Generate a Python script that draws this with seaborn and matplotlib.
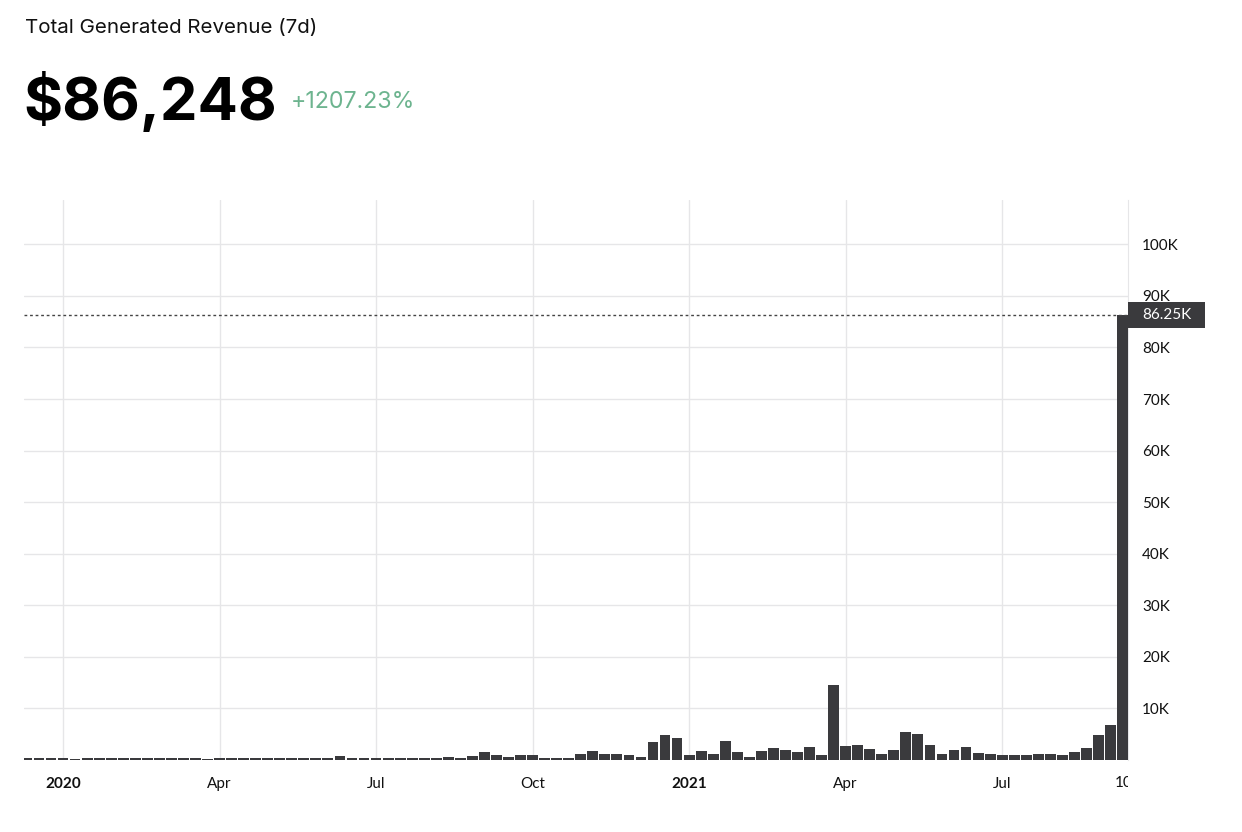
import numpy as np
import pandas as pd
import seaborn as sns
import matplotlib
matplotlib.use('Agg')
import matplotlib.pyplot as plt
import matplotlib.patches as mpatches
from matplotlib.transforms import Bbox

# weekly revenue (USD), one bar per week, first bar three weeks before Jan 2020
revenue = [
    300, 300, 300, 300, 250, 300, 300, 300, 300, 300,
    300, 300, 300, 300, 300, 250, 300, 300, 300, 300,
    300, 300, 300, 300, 300, 300, 700, 300, 300, 300,
    300, 300, 300, 350, 400, 500, 300, 850, 1550, 1000,
    600, 900, 1000, 300, 400, 400, 1150, 1750, 1150, 1150,
    900, 600, 3500, 4850, 4270, 1000, 1700, 1100, 3700, 1600,
    650, 1800, 2400, 1950, 1600, 2500, 1000, 14500, 2700, 3000,
    2100, 1200, 2000, 5350, 5000, 3000, 1200, 1900, 2600, 1400,
    1200, 900, 900, 900, 1200, 1200, 900, 1550, 2400, 4850,
    6700, 86248,
]
week_index = list(range(-3, len(revenue) - 3))

tick_weeks = [0, 13, 26, 39, 52, 65, 78]
tick_labels = ["2020", "Apr", "Jul", "Oct", "2021", "Apr", "Jul"]
ytick_values = [10000, 20000, 30000, 40000, 50000, 60000, 70000, 80000, 90000, 100000]
ytick_labels = ["10K", "20K", "30K", "40K", "50K", "60K", "70K", "80K", "90K", "100K"]

title = "Total Generated Revenue (7d)"
total_text = "$86,248"
change_text = "+1207.23%"
last_label = "86.25K"

df = pd.DataFrame({"week": week_index, "revenue": revenue})

sns.set_style("white")
plt.rcParams['font.family'] = ['Lato', 'DejaVu Sans']

W, H = 1242, 832
fig = plt.figure(figsize=(W / 100, H / 100), dpi=100)
ax = fig.add_axes([24 / W, 1 - 760 / H, (1128 - 24) / W, (760 - 200) / H])

bar_color = "#3a3a3d"
grid_color = "#e6e6e8"

sns.barplot(data=df, x="week", y="revenue", native_scale=True, width=0.9,
            color=bar_color, saturation=1, linewidth=0, errorbar=None, ax=ax, zorder=3)

ax.set_xlim(-3.24, 88.45)
ax.set_ylim(0, 108600)

# grid
for w in tick_weeks:
    ax.axvline(w, color=grid_color, lw=1, zorder=1)
for v in ytick_values:
    ax.axhline(v, color=grid_color, lw=1, zorder=1)

ax.set_xticks(tick_weeks)
ax.set_xticklabels(tick_labels, fontsize=11, color="#111111")
for lbl in ax.get_xticklabels():
    if lbl.get_text() in ("2020", "2021"):
        lbl.set_fontweight("bold")
ax.yaxis.tick_right()
ax.set_yticks(ytick_values)
ax.set_yticklabels(ytick_labels, fontsize=11, color="#111111")
ax.tick_params(axis="x", length=0, pad=12)
ax.tick_params(axis="y", length=0, pad=10)
ax.set_xlabel("")
ax.set_ylabel("")

for side in ["top", "left", "bottom"]:
    ax.spines[side].set_visible(False)
ax.spines["right"].set_color(grid_color)

# last value marker line and label
last = revenue[-1]
ax.axhline(last, color="#444444", lw=1, ls=(0, (2, 2)), zorder=4)
rect = mpatches.Rectangle((1.0, last - 2520), 77 / 1104, 5040,
                          transform=ax.get_yaxis_transform(), clip_on=False,
                          facecolor="#3a3a3d", edgecolor="none", zorder=10)
ax.add_patch(rect)
ax.text(1.0 + 38.5 / 1104, last, last_label, transform=ax.get_yaxis_transform(),
        ha="center", va="center", color="white", fontsize=11, zorder=11, clip_on=False)

# partially hidden tick label at the right edge
t = fig.text(1115 / W, 1 - 783 / H, "10", fontsize=11, ha="left", va="center", color="#111111")
t.set_clip_box(Bbox.from_extents(0, 0, 1128, H))
t.set_clip_on(True)

# header
fig.text(25 / W, 1 - 33 / H, title, fontsize=14.8, family=["Inter", "DejaVu Sans"],
         ha="left", va="baseline", color="#111111")
fig.text(23 / W, 1 - 120 / H, total_text, fontsize=43, fontweight="bold",
         family=["Inter", "DejaVu Sans"], ha="left", va="baseline", color="#000000")
fig.text(291 / W, 1 - 108 / H, change_text, fontsize=16.7, family=["Inter", "DejaVu Sans"],
         ha="left", va="baseline", color="#6db48f")

fig.savefig("out.png", dpi=100, facecolor="white")
